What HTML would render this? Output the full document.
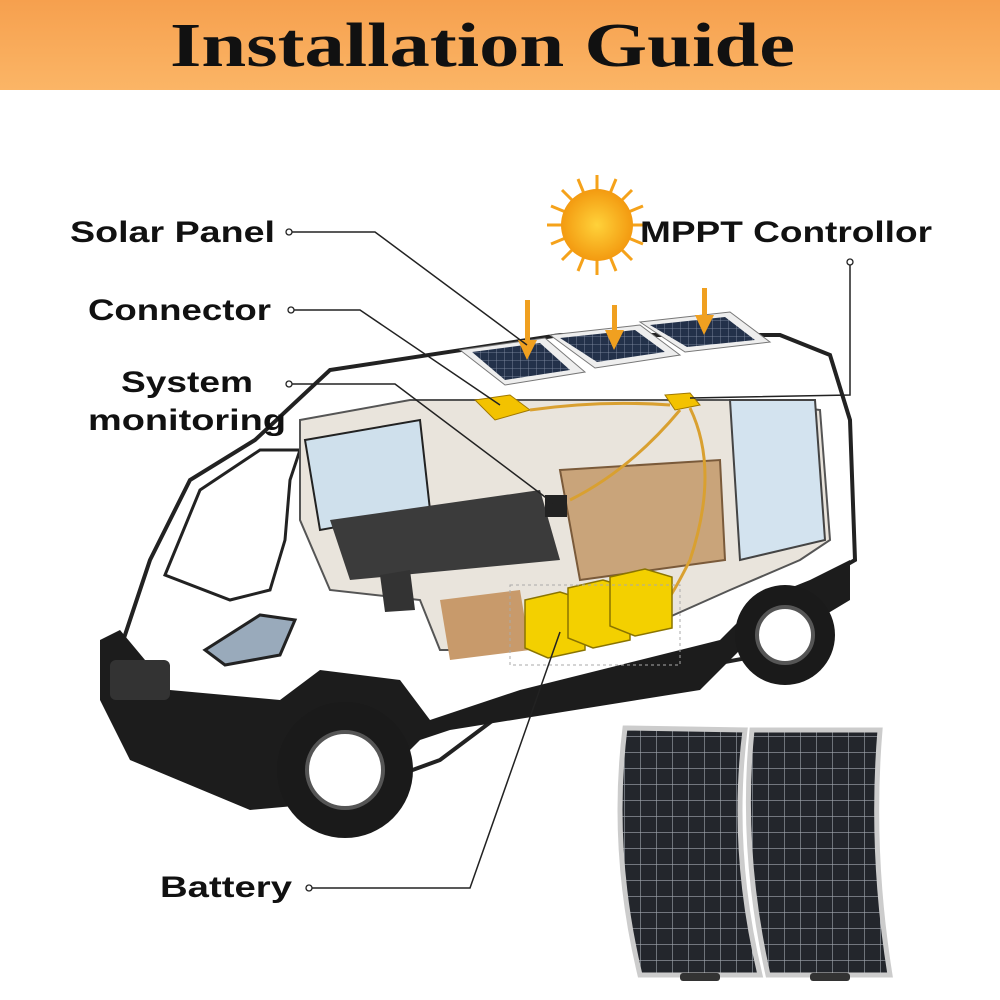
<!DOCTYPE html>
<html><head><meta charset="utf-8"><style>
html,body{margin:0;padding:0;background:#fff;}
svg{display:block}
.lbl{font-family:"Liberation Sans",sans-serif;font-weight:bold;font-size:30px;fill:#111}
</style></head><body>
<svg width="1000" height="1000" viewBox="0 0 1000 1000" xmlns="http://www.w3.org/2000/svg">
<defs>
<linearGradient id="hd" x1="0" x2="0" y1="0" y2="1"><stop offset="0" stop-color="#f6a04e"/><stop offset="1" stop-color="#fbb566"/></linearGradient>
<radialGradient id="sun"><stop offset="0" stop-color="#ffd23a"/><stop offset="1" stop-color="#f39a10"/></radialGradient>
<pattern id="cells" width="16" height="16" patternUnits="userSpaceOnUse"><rect width="16" height="16" fill="#23262c"/><path d="M0 0H16M0 0V16" stroke="#a0a6ae" stroke-width="1.2"/></pattern>
<pattern id="cells2" width="8" height="8" patternUnits="userSpaceOnUse"><rect width="8" height="8" fill="#23314a"/><path d="M0 0H8M0 0V8" stroke="#8894a8" stroke-width="0.8"/></pattern>
</defs>
<rect x="0" y="0" width="1000" height="90" fill="url(#hd)"/>
<text x="170" y="66" textLength="625" lengthAdjust="spacingAndGlyphs" font-family="Liberation Serif,serif" font-weight="bold" font-size="62" fill="#111">Installation Guide</text>

<g transform="translate(597,225)">
<g stroke="#f5a21a" stroke-width="3">
<line x1="0" y1="-50" x2="0" y2="50"/><line x1="-50" y1="0" x2="50" y2="0"/>
<line x1="-35" y1="-35" x2="35" y2="35"/><line x1="-35" y1="35" x2="35" y2="-35"/>
<line x1="-19" y1="-46" x2="19" y2="46"/><line x1="-46" y1="-19" x2="46" y2="19"/>
<line x1="-19" y1="46" x2="19" y2="-46"/><line x1="-46" y1="19" x2="46" y2="-19"/>
</g>
<circle r="36" fill="url(#sun)"/>
</g>

<path d="M120 650 L150 560 L190 480 L255 440 L330 370 L560 335 L780 335 L830 355 L850 420 L855 560 L820 580 L790 650 L520 700 L440 760 L330 800 L230 770 L150 740 Z" fill="#fff" stroke="#222" stroke-width="4"/>
<path d="M100 640 L120 630 L170 690 L280 700 L320 670 L400 680 L430 720 L520 690 L720 640 L760 600 L810 580 L850 560 L850 600 L800 630 L740 650 L700 690 L450 730 L420 740 L360 800 L250 810 L130 760 L100 700 Z" fill="#1c1c1c"/>
<path d="M165 575 L200 490 L260 450 L300 450 L290 480 L285 540 L270 590 L230 600 Z" fill="#fff" stroke="#222" stroke-width="3"/>
<path d="M300 420 L410 400 L540 400 L740 400 L820 410 L830 540 L800 560 L730 590 L640 630 L520 650 L440 650 L420 600 L330 590 L300 520 Z" fill="#e9e4dc" stroke="#555" stroke-width="2"/>
<path d="M305 440 L420 420 L430 510 L320 530 Z" fill="#cfe0ec" stroke="#222" stroke-width="2"/>
<path d="M730 400 L815 400 L825 540 L740 560 Z" fill="#d3e3ef" stroke="#444" stroke-width="2"/>
<path d="M330 520 L540 490 L560 560 L350 580 Z" fill="#3b3b3b"/>
<path d="M560 470 L720 460 L725 560 L580 580 Z" fill="#c9a47a" stroke="#7a5a3a" stroke-width="2"/>
<path d="M440 600 L520 590 L530 650 L450 660 Z" fill="#c89a6b"/>
<path d="M205 650 L260 615 L295 620 L280 655 L225 665 Z" fill="#9ab" stroke="#222" stroke-width="3"/>
<rect x="110" y="660" width="60" height="40" rx="6" fill="#333"/>
<path d="M380 575 L410 570 L415 610 L385 612 Z" fill="#333"/>
<circle cx="345" cy="770" r="68" fill="#1a1a1a"/><circle cx="345" cy="770" r="38" fill="#fff" stroke="#555" stroke-width="4"/>
<circle cx="785" cy="635" r="50" fill="#1a1a1a"/><circle cx="785" cy="635" r="28" fill="#fff" stroke="#555" stroke-width="4"/>

<g>
<path d="M460 350 L545 338 L585 372 L505 385 Z" fill="#eee" stroke="#777"/><path d="M472 352 L540 343 L570 370 L505 380 Z" fill="url(#cells2)"/>
<path d="M550 335 L640 325 L680 355 L595 368 Z" fill="#eee" stroke="#777"/><path d="M560 338 L635 330 L665 352 L597 362 Z" fill="url(#cells2)"/>
<path d="M640 322 L730 312 L770 342 L685 352 Z" fill="#eee" stroke="#777"/><path d="M650 325 L725 317 L755 340 L687 347 Z" fill="url(#cells2)"/>
</g>
<g fill="#f0a020">
<rect x="525" y="300" width="5" height="45"/><polygon points="518,340 537,340 527,360"/>
<rect x="612" y="305" width="5" height="30"/><polygon points="605,330 624,330 614,350"/>
<rect x="702" y="288" width="5" height="32"/><polygon points="695,315 714,315 704,335"/>
</g>
<path d="M475 400 L510 395 L530 410 L495 420 Z" fill="#f3c200" stroke="#a07800"/>
<path d="M665 395 L690 393 L700 405 L675 410 Z" fill="#f3c200" stroke="#a07800"/>
<g stroke="#d9a030" stroke-width="3" fill="none">
<path d="M530 410 Q600 400 670 405"/><path d="M690 408 Q720 470 690 560 Q670 600 660 610"/><path d="M680 410 Q630 470 570 500"/>
</g>
<rect x="545" y="495" width="22" height="22" fill="#222"/>
<g stroke="#8a7400" stroke-width="1.5">
<path d="M525 600 L560 592 L585 600 L585 650 L548 658 L525 648 Z" fill="#f3d000"/>
<path d="M568 588 L603 580 L630 588 L630 640 L593 648 L568 638 Z" fill="#f3d000"/>
<path d="M610 577 L645 569 L672 577 L672 628 L635 636 L610 626 Z" fill="#f3d000"/>
</g>
<rect x="510" y="585" width="170" height="80" fill="none" stroke="#aaa" stroke-dasharray="3 3"/>

<path d="M625 728 L745 730 Q730 850 760 975 L640 975 Q610 850 625 728 Z" fill="url(#cells)" stroke="#ccc" stroke-width="5"/>
<path d="M752 730 L880 730 Q870 850 890 975 L768 975 Q740 850 752 730 Z" fill="url(#cells)" stroke="#ccc" stroke-width="5"/>
<rect x="680" y="973" width="40" height="8" rx="3" fill="#333"/><rect x="810" y="973" width="40" height="8" rx="3" fill="#333"/>

<g stroke="#222" stroke-width="1.5" fill="none">
<path d="M290 232 L375 232 L527 345"/>
<path d="M292 310 L360 310 L500 405"/>
<path d="M290 384 L395 384 L553 503"/>
<path d="M850 264 L850 395 L690 398"/>
<path d="M310 888 L470 888 L560 632"/>
</g>
<g fill="#fff" stroke="#222" stroke-width="1.3">
<circle cx="289" cy="232" r="3"/><circle cx="291" cy="310" r="3"/><circle cx="289" cy="384" r="3"/><circle cx="850" cy="262" r="3"/><circle cx="309" cy="888" r="3"/>
</g>
<text class="lbl" x="70" y="242" textLength="205" lengthAdjust="spacingAndGlyphs">Solar Panel</text>
<text class="lbl" x="88" y="320" textLength="183" lengthAdjust="spacingAndGlyphs">Connector</text>
<text class="lbl" x="121" y="392" textLength="132" lengthAdjust="spacingAndGlyphs">System</text>
<text class="lbl" x="88" y="430" textLength="198" lengthAdjust="spacingAndGlyphs">monitoring</text>
<text class="lbl" x="640" y="242" textLength="292" lengthAdjust="spacingAndGlyphs">MPPT Controllor</text>
<text class="lbl" x="160" y="897" textLength="132" lengthAdjust="spacingAndGlyphs">Battery</text>
</svg>
</body></html>
